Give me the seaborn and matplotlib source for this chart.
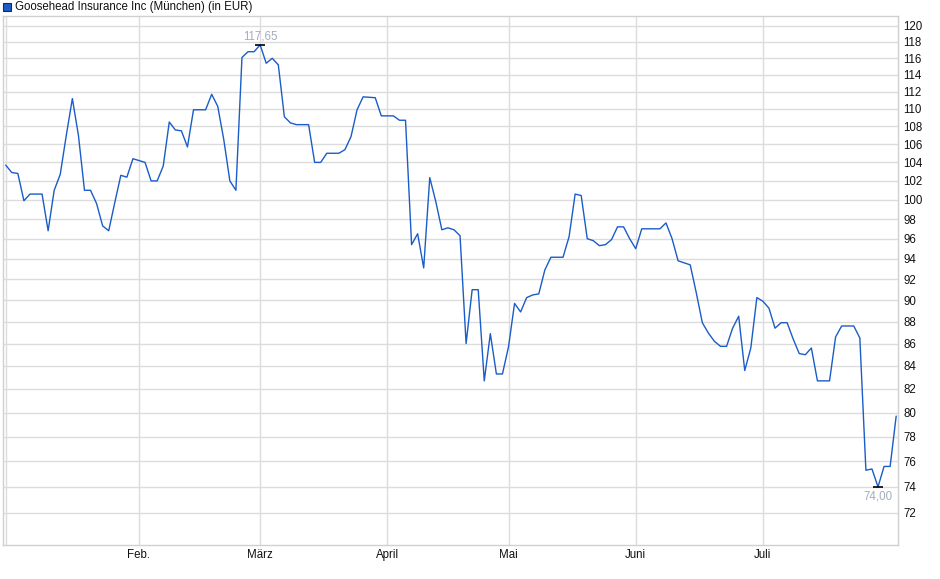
import numpy as np
import pandas as pd
import matplotlib
matplotlib.use("Agg")
import matplotlib.pyplot as plt
from matplotlib.patches import Rectangle
from matplotlib.ticker import FixedLocator, FixedFormatter, NullLocator
import seaborn as sns

# ---------------- data ----------------
title = "Goosehead Insurance Inc (München) (in EUR)"
start_date = "2025-01-02"
end_date = "2025-07-31"
exchange_holidays = ["2025-04-18", "2025-04-21", "2025-05-01"]

prices = [
    103.7, 102.9, 102.8, 99.9, 100.6, 100.6, 100.6, 96.8, 101.0, 102.7,
    107.0, 111.2, 107.0, 101.0, 101.0, 99.6, 97.3, 96.8, 99.7, 102.6,
    102.4, 104.4, 104.2, 104.0, 102.0, 102.0, 103.6, 108.5, 107.6, 107.5,
    105.7, 109.9, 109.9, 109.9, 111.7, 110.3, 106.5, 102.0, 101.0, 116.1,
    116.8, 116.8, 117.65, 115.4, 116.0, 115.2, 109.1, 108.4, 108.2, 108.2,
    108.2, 104.0, 104.0, 105.0, 105.0, 105.0, 105.4, 106.85, 109.9, 111.4,
    111.35, 111.3, 109.2, 109.2, 109.2, 108.7, 108.7, 95.4, 96.5, 93.1,
    102.35, 99.8, 96.9, 97.1, 96.9, 96.3, 86.0, 91.0, 91.0, 82.7,
    86.9, 83.3, 83.3, 85.7, 89.7, 88.9, 90.25, 90.5, 90.6, 92.9,
    94.15, 94.15, 94.15, 96.2, 100.6, 100.45, 96.0, 95.8, 95.3, 95.4,
    95.9, 97.2, 97.2, 96.0, 95.0, 97.0, 97.0, 97.0, 97.0, 97.6,
    96.0, 93.8, 93.6, 93.4, 90.7, 87.9, 86.95, 86.2, 85.75, 85.75,
    87.4, 88.5, 83.6, 85.6, 90.25, 89.9, 89.25, 87.4, 87.9, 87.9,
    86.4, 85.1, 85.0, 85.6, 82.7, 82.7, 82.7, 86.6, 87.6, 87.6,
    87.6, 86.5, 75.3, 75.4, 74.0, 75.6, 75.6, 79.7,
]

month_labels = ["", "Feb.", "März", "April", "Mai", "Juni", "Juli"]
y_ticks = list(range(72, 121, 2))

# ---------------- style ----------------
sns.set_theme(style="white")
plt.rcParams["font.family"] = ["Liberation Sans", "DejaVu Sans"]

LINE = "#1a5cc8"
GRID = "#dcdcdc"

dates = pd.bdate_range(start_date, end_date)
dates = dates[~dates.isin(pd.to_datetime(exchange_holidays))]
df = pd.DataFrame({"date": dates, "price": prices})
df["pos"] = np.arange(len(df))

W, H = 940, 579
fig = plt.figure(figsize=(W / 100, H / 100), dpi=100)
ax = fig.add_axes([3 / W, 1 - 545 / H, 895 / W, 529 / H])

sns.lineplot(data=df, x="pos", y="price", ax=ax, color=LINE, linewidth=1.0)

ax.set_yscale("log")
ax.set_ylim(69.62, 121.26)
ax.set_xlim(-0.45, 147.3)

ax.yaxis.set_major_locator(FixedLocator(y_ticks))
ax.yaxis.set_major_formatter(FixedFormatter([str(t) for t in y_ticks]))
ax.yaxis.set_minor_locator(NullLocator())
ax.yaxis.tick_right()
ax.tick_params(axis="y", which="major", right=True, left=False, length=0,
               labelsize=8.3, pad=4, labelcolor="#111111")

month_pos = df.groupby(df["date"].dt.month)["pos"].min().tolist()
ax.xaxis.set_major_locator(FixedLocator(month_pos))
ax.xaxis.set_major_formatter(FixedFormatter(month_labels))
ax.xaxis.set_minor_locator(NullLocator())
ax.tick_params(axis="x", length=0, labelsize=8.3, pad=3, labelcolor="#111111")

ax.grid(True, which="major", color=GRID, linewidth=1.0)
ax.set_axisbelow(True)
for s in ax.spines.values():
    s.set_visible(True)
    s.set_color("#d0d0d0")
    s.set_linewidth(1.0)
ax.set_xlabel("")
ax.set_ylabel("")

# extremes
imax = int(df["price"].idxmax())
imin = int(df["price"].idxmin())
for i, va, off in [(imax, "bottom", 2), (imin, "top", -3)]:
    p = df.loc[i, "pos"]
    v = df.loc[i, "price"]
    ax.plot([p], [v], marker="_", markersize=7, markeredgewidth=1.2,
            color="black", zorder=5)
    ax.annotate(f"{v:.2f}".replace(".", ","), xy=(p, v), xytext=(0, off),
                textcoords="offset points", ha="center", va=va,
                fontsize=8.3, color="#a4acbc")

# header legend
fig.patches.append(Rectangle((3 / W, 1 - 11 / H), 8 / W, 8 / H,
                             transform=fig.transFigure, facecolor=LINE,
                             edgecolor="#1a2a50", linewidth=0.8))
fig.text(15 / W, 1 - 7 / H, title, ha="left", va="center",
         fontsize=8.3, color="#111111")

fig.savefig("out.png", dpi=100)
